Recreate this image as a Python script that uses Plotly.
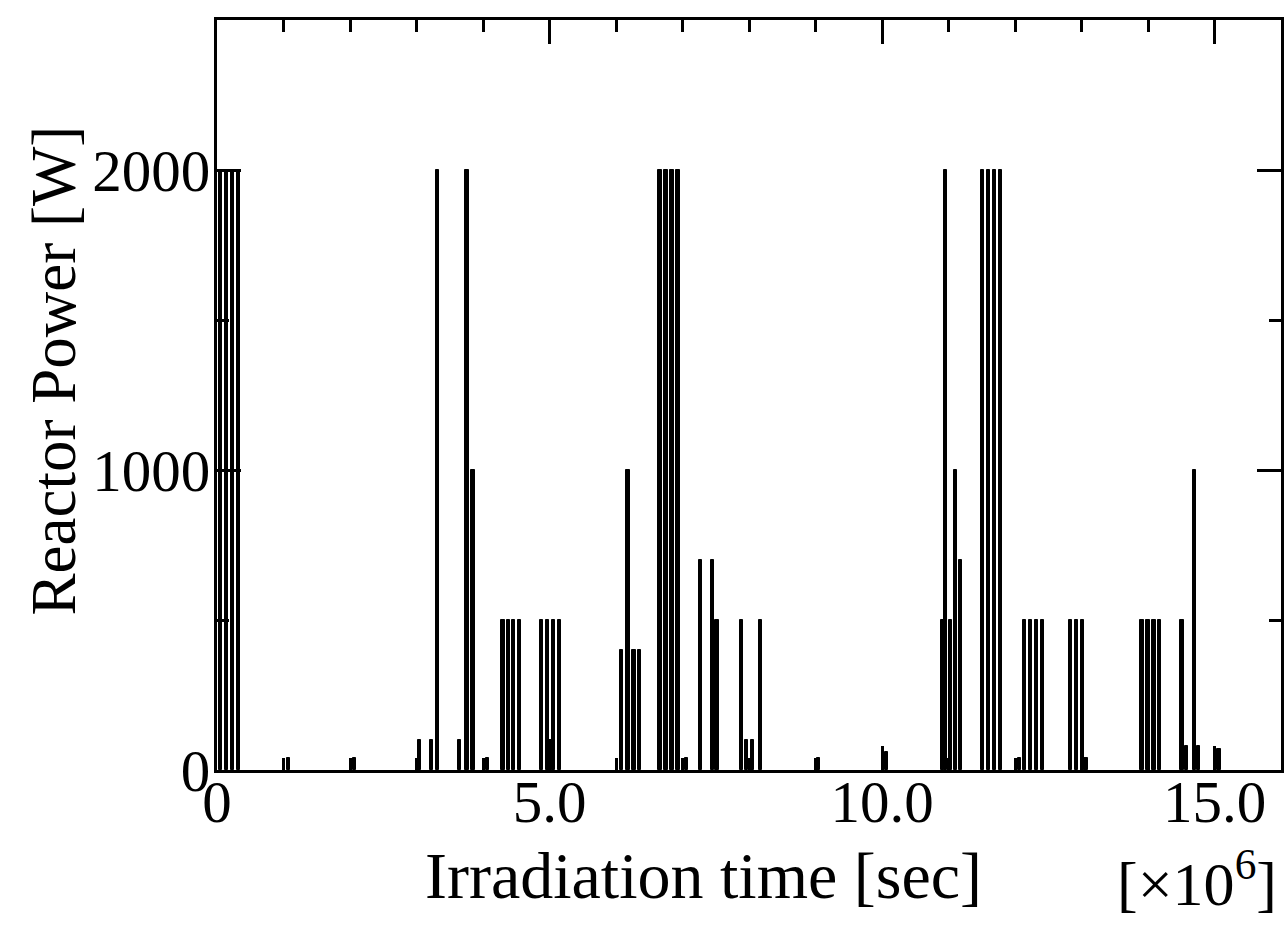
import plotly.graph_objects as go

# Irradiation time (x10^6 s) of each power pulse and reactor power (W)
time_1e6 = [0.05, 0.14, 0.23, 0.32, 1.08, 2.07, 3.05, 3.23, 3.32, 3.65, 3.76, 3.85,
            4.07, 4.30, 4.38, 4.46, 4.55, 4.88, 4.97, 5.02, 5.06, 5.15,
            6.08, 6.18, 6.27, 6.35, 6.66, 6.75, 6.84, 6.93, 7.06,
            7.27, 7.45, 7.52, 7.89, 7.96, 8.05, 8.17, 9.04, 10.07,
            10.91, 10.95, 11.03, 11.11, 11.18, 11.51, 11.60, 11.69, 11.78,
            12.07, 12.14, 12.23, 12.32, 12.41, 12.83, 12.92, 13.01, 13.07,
            13.91, 14.00, 14.09, 14.17, 14.51, 14.58, 14.70, 14.76, 15.07]
power_w = [2000, 2000, 2000, 2000, 40, 40, 100, 100, 2000, 100, 2000, 1000,
           40, 500, 500, 500, 500, 500, 500, 100, 500, 500,
           400, 1000, 400, 400, 2000, 2000, 2000, 2000, 40,
           700, 700, 500, 500, 100, 100, 500, 40, 60,
           500, 2000, 500, 1000, 700, 2000, 2000, 2000, 2000,
           40, 500, 500, 500, 500, 500, 500, 500, 40,
           500, 500, 500, 500, 500, 80, 1000, 80, 70]

x_tickvals = [0, 5, 10, 15]
x_ticktext = ["0", "5.0", "10.0", "15.0"]
y_tickvals = [0, 1000, 2000]
y_ticktext = ["0", "1000", "2000"]

FONT = "Liberation Serif, Times New Roman, serif"

fig = go.Figure()
fig.add_trace(go.Bar(x=time_1e6, y=power_w, width=0.05,
                     marker=dict(color="black", line=dict(width=1, color="black")),
                     showlegend=False))

axis_common = dict(showline=True, linecolor="black", linewidth=3, mirror="ticks",
                   ticks="inside", tickcolor="black", tickwidth=3, ticklen=24,
                   showgrid=False, zeroline=False,
                   tickfont=dict(family=FONT, size=59, color="black"))

fig.update_xaxes(range=[0, 16], tickvals=x_tickvals, ticktext=x_ticktext,
                 ticklabelstandoff=-22,
                 minor=dict(dtick=1, ticks="inside", ticklen=12, tickwidth=3, tickcolor="black"),
                 **axis_common)
fig.update_yaxes(range=[0, 2500], tickvals=y_tickvals, ticktext=y_ticktext,
                 ticklabelstandoff=-8,
                 minor=dict(dtick=500, ticks="inside", ticklen=12, tickwidth=3, tickcolor="black"),
                 **axis_common)

fig.add_annotation(text="Reactor Power [W]", xref="paper", yref="paper",
                   x=-0.153, y=0.533, textangle=-90, showarrow=False,
                   xanchor="center", yanchor="middle",
                   font=dict(family=FONT, size=63, color="black"))
fig.add_annotation(text="Irradiation time [sec]", xref="paper", yref="paper",
                   x=0.457, y=-0.14, showarrow=False,
                   xanchor="center", yanchor="middle",
                   font=dict(family=FONT, size=66, color="black"))
fig.add_annotation(text="[×10<sup>6</sup>]", xref="paper", yref="paper",
                   x=0.921, y=-0.145, showarrow=False,
                   xanchor="center", yanchor="middle",
                   font=dict(family=FONT, size=62, color="black"))

fig.update_layout(width=1288, height=932, plot_bgcolor="white", paper_bgcolor="white",
                  margin=dict(l=217, r=4, t=20, b=162), bargap=0)

fig.write_html("out.html")
